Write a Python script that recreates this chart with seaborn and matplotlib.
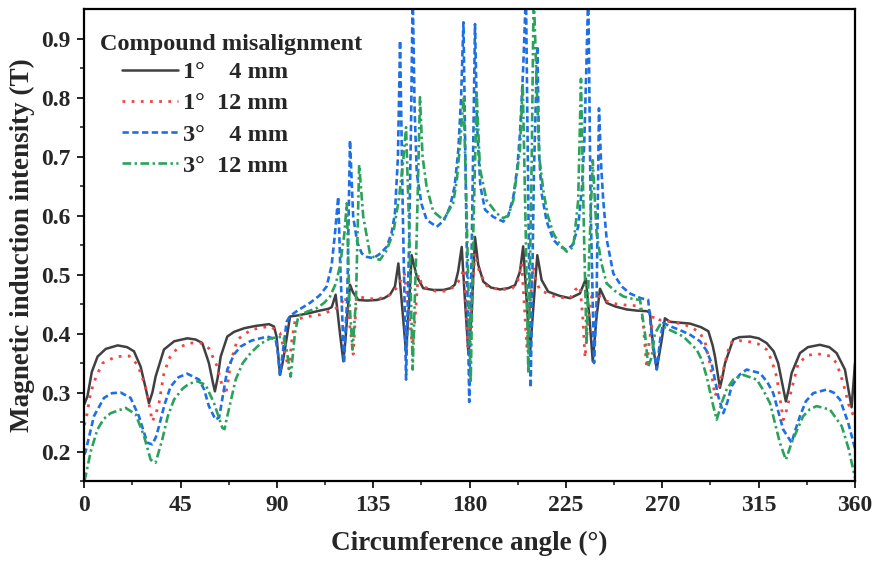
import numpy as np
import pandas as pd
import matplotlib
matplotlib.use("Agg")
import matplotlib.pyplot as plt
import seaborn as sns

# ---------------- data ----------------
ang_1_4 = [0, 1.5, 3.5, 6.2, 10, 15.6, 20, 23.2, 26.3, 28.5, 30.2, 31.8, 33.3, 37.2, 42, 48.1, 52, 55.1,
           58.2, 60.0, 61.0, 62.3, 63.7, 66.8, 70, 74.6, 80, 86.3, 88.6, 89.8, 91.4, 92.6, 93.7, 96.1, 100,
           105.4, 110, 114, 115.6, 117.4, 118.5, 119.4, 121.0, 122.0, 122.8, 124.1, 125.5, 128, 132, 136.6,
           140, 142.8, 145.1, 146.7, 148.2, 150.3, 151.8, 152.9, 155.3, 158.3, 163, 167.7, 171, 173.1, 174.6,
           176.3, 177.8, 179.4, 180.9, 182.5, 184, 186.4, 190, 194.2, 198, 201.2, 203.5, 205, 206.6, 208.2,
           210, 211.6, 213.6, 216.7, 222, 226.9, 231.5, 234.3, 235.9, 237.5, 239.3, 240.9, 244, 248, 253.3,
           258, 262.7, 264.2, 265.8, 267.4, 269.7, 271.2, 273.6, 282.9, 288, 291.5, 293.5, 294.6, 296.9, 298,
           299.3, 303.1, 306, 310.9, 315, 318.7, 322, 324.1, 327.7, 329, 330.4, 334.3, 338, 343.6, 348, 351.4,
           355.3, 358.4, 360]
val_1_4 = [0.280, 0.294, 0.335, 0.361, 0.374, 0.380, 0.377, 0.370, 0.344, 0.310, 0.282, 0.300, 0.327, 0.373,
           0.387, 0.392, 0.390, 0.384, 0.350, 0.318, 0.302, 0.325, 0.361, 0.395, 0.403, 0.409, 0.413, 0.416,
           0.412, 0.395, 0.330, 0.350, 0.373, 0.429, 0.431, 0.435, 0.439, 0.442, 0.445, 0.466, 0.430, 0.401,
           0.353, 0.390, 0.429, 0.483, 0.470, 0.457, 0.456, 0.457, 0.460, 0.466, 0.480, 0.519, 0.457, 0.367,
           0.457, 0.533, 0.497, 0.477, 0.474, 0.474, 0.477, 0.483, 0.505, 0.547, 0.457, 0.367, 0.429, 0.564,
           0.517, 0.488, 0.478, 0.475, 0.477, 0.482, 0.505, 0.548, 0.457, 0.367, 0.457, 0.533, 0.491, 0.471,
           0.464, 0.460, 0.468, 0.493, 0.429, 0.353, 0.429, 0.476, 0.452, 0.446, 0.441, 0.439, 0.438, 0.436,
           0.374, 0.340, 0.389, 0.426, 0.420, 0.417, 0.411, 0.404, 0.380, 0.361, 0.308, 0.325, 0.350, 0.390,
           0.394, 0.395, 0.392, 0.384, 0.370, 0.350, 0.285, 0.305, 0.333, 0.367, 0.377, 0.381, 0.377, 0.367,
           0.339, 0.275, 0.350]

ang_1_12 = [0, 0.8, 3, 5.5, 8.6, 14.8, 21, 24.9, 28.6, 31.8, 33.5, 34.9, 37.2, 40, 43.4, 48.9, 54.3, 58.2,
            62.1, 64.5, 66, 67.2, 68.3, 71.5, 77.7, 82, 87, 91.4, 93.5, 95.5, 97, 98.5, 103, 110.1, 116.3,
            119.5, 121.8, 123.5, 125.6, 127.2, 131.9, 137, 142.8, 146, 149.5, 151.5, 153.3, 154.8, 156, 158,
            164, 169.3, 172.5, 174.7, 177.5, 179.2, 180.8, 182.5, 184.5, 188, 194.2, 200, 202.5, 204.3, 205.5,
            206.7, 208.2, 209.7, 211, 212.8, 220, 226.9, 229.2, 231.5, 232.8, 233.9, 235.3, 237, 239.3, 244,
            248.7, 254, 259.6, 261, 262.7, 264, 265.8, 268.9, 274, 279.8, 284, 287.6, 290, 292.2, 294.6, 296,
            297.7, 301.6, 306, 310.9, 315, 318.7, 321, 323.4, 326.5, 328, 329.6, 333.5, 338, 342.1, 348.3,
            351.4, 354.5, 357, 360]
val_1_12 = [0.245, 0.254, 0.300, 0.327, 0.350, 0.361, 0.362, 0.347, 0.310, 0.251, 0.265, 0.282, 0.333, 0.360,
            0.375, 0.384, 0.384, 0.375, 0.344, 0.310, 0.296, 0.320, 0.350, 0.390, 0.406, 0.410, 0.412, 0.401,
            0.370, 0.340, 0.390, 0.423, 0.428, 0.432, 0.440, 0.447, 0.463, 0.430, 0.365, 0.463, 0.460, 0.458,
            0.466, 0.478, 0.502, 0.440, 0.375, 0.440, 0.500, 0.480, 0.472, 0.472, 0.479, 0.488, 0.510, 0.378,
            0.450, 0.536, 0.505, 0.481, 0.474, 0.477, 0.490, 0.519, 0.450, 0.378, 0.450, 0.514, 0.490, 0.474,
            0.462, 0.460, 0.474, 0.480, 0.430, 0.359, 0.420, 0.463, 0.466, 0.455, 0.450, 0.448, 0.447, 0.420,
            0.342, 0.390, 0.430, 0.423, 0.420, 0.416, 0.410, 0.401, 0.385, 0.350, 0.294, 0.305, 0.327, 0.384,
            0.388, 0.386, 0.382, 0.373, 0.355, 0.327, 0.254, 0.270, 0.294, 0.350, 0.363, 0.366, 0.362, 0.350,
            0.316, 0.280, 0.255]

ang_3_4 = [0, 0.6, 4.5, 9.2, 13, 17, 21.6, 25.5, 29.4, 31.8, 33.5, 34.9, 37.5, 40.3, 44, 48.1, 53.6, 56,
           58.2, 61.3, 63, 64.5, 66.8, 70, 73, 78, 85.5, 89.4, 90.5, 91.4, 92.8, 94.5, 96.1, 100, 105.4, 110,
           113.2, 115.5, 117.1, 118.6, 119.5, 120.2, 121.3, 122.2, 122.8, 123.5, 124.1, 125.6, 127.5, 129.6,
           132, 135, 138, 141.2, 143.5, 145.1, 146.5, 147.5, 148.7, 150.3, 151.8, 152.6, 153.4, 154.3, 155.3,
           157.5, 159.9, 164.6, 168, 170.8, 173, 174.7, 176, 177.1, 178.4, 179.8, 181.2, 182.5, 183.5, 185,
           187.2, 191, 195.7, 198, 200.4, 202.2, 203.5, 205, 206.3, 207.4, 208.5, 210, 211.6, 212.5, 213.6,
           216, 219.1, 222, 225.3, 228, 230.7, 232.5, 233.5, 234.5, 235.4, 236.5, 238.1, 239.3, 240.4, 241.5,
           242.4, 244, 247.1, 251, 254.9, 260, 263.4, 265, 267.4, 269, 270.4, 274, 278.2, 283, 287.6, 290.5,
           293, 296.1, 298.5, 300.5, 302.4, 306, 309.4, 315.6, 319, 321.8, 324, 326.5, 330.4, 332, 334.3, 337,
           340.5, 346.7, 350, 353, 356.8, 360]
val_3_4 = [0.195, 0.200, 0.260, 0.291, 0.299, 0.300, 0.291, 0.260, 0.215, 0.212, 0.225, 0.243, 0.280, 0.310,
           0.326, 0.332, 0.322, 0.305, 0.277, 0.254, 0.258, 0.290, 0.339, 0.365, 0.378, 0.388, 0.395, 0.390,
           0.365, 0.330, 0.370, 0.420, 0.430, 0.440, 0.452, 0.465, 0.480, 0.515, 0.570, 0.632, 0.520, 0.457,
           0.350, 0.420, 0.457, 0.600, 0.728, 0.598, 0.555, 0.536, 0.530, 0.528, 0.535, 0.547, 0.570, 0.604,
           0.700, 0.897, 0.620, 0.322, 0.570, 0.750, 0.980, 0.780, 0.672, 0.620, 0.593, 0.581, 0.592, 0.615,
           0.650, 0.711, 0.800, 0.928, 0.600, 0.284, 0.600, 0.925, 0.750, 0.650, 0.610, 0.598, 0.590, 0.600,
           0.632, 0.680, 0.739, 0.850, 0.980, 0.620, 0.308, 0.670, 0.888, 0.700, 0.638, 0.590, 0.559, 0.548,
           0.542, 0.550, 0.581, 0.650, 0.720, 0.850, 0.980, 0.620, 0.350, 0.457, 0.782, 0.680, 0.626, 0.560,
           0.502, 0.480, 0.468, 0.460, 0.457, 0.400, 0.339, 0.390, 0.418, 0.412, 0.406, 0.398, 0.387, 0.372,
           0.350, 0.294, 0.265, 0.285, 0.311, 0.330, 0.339, 0.333, 0.318, 0.299, 0.270, 0.237, 0.215, 0.235,
           0.260, 0.285, 0.299, 0.305, 0.300, 0.288, 0.249, 0.205]

ang_3_12 = [0, 0.6, 3, 6.1, 9, 12.3, 19.3, 24, 27.9, 31, 33.3, 36.4, 39, 41.9, 46, 49, 52.8, 56.7, 60.6,
            64.5, 65.5, 66.8, 70.7, 74, 77.7, 82, 87, 93, 94.5, 96.4, 98.4, 100, 104, 108.5, 112, 114.8, 117.5,
            119.4, 121.5, 122.6, 123.8, 125.3, 126.9, 128.4, 130.3, 133.4, 135.5, 138.1, 141, 144.3, 147, 149,
            150.3, 151.8, 153.4, 155.3, 156.8, 158, 159.9, 163, 167.7, 172.3, 174, 175.5, 177.2, 178.6, 180.5,
            181.7, 183.3, 184.8, 187.9, 192.6, 195.7, 198, 200.4, 203.5, 204.8, 206.2, 207.4, 209, 209.9,
            211.3, 212.5, 214.4, 216.5, 219.1, 222, 225.3, 228.4, 230.7, 232, 233.4, 234.6, 236, 237.5, 239.3,
            241.5, 244, 248, 251.8, 256, 259.6, 261.9, 263.4, 265, 266.5, 268.9, 273.6, 279.8, 286, 288.5,
            290.7, 293.8, 295.4, 297.7, 300, 303.1, 307.8, 314.1, 317, 320.3, 324.9, 327.7, 330.4, 335.8, 339,
            342.1, 348.3, 353.8, 357, 360]
val_3_12 = [0.150, 0.158, 0.200, 0.237, 0.255, 0.265, 0.274, 0.263, 0.226, 0.186, 0.181, 0.220, 0.260, 0.288,
            0.307, 0.315, 0.319, 0.313, 0.282, 0.240, 0.238, 0.260, 0.322, 0.350, 0.367, 0.382, 0.392, 0.395,
            0.373, 0.327, 0.401, 0.430, 0.437, 0.443, 0.452, 0.463, 0.485, 0.514, 0.570, 0.621, 0.457, 0.373,
            0.457, 0.686, 0.598, 0.536, 0.528, 0.525, 0.540, 0.570, 0.630, 0.694, 0.750, 0.570, 0.339, 0.570,
            0.801, 0.700, 0.649, 0.607, 0.593, 0.621, 0.660, 0.720, 0.801, 0.600, 0.316, 0.570, 0.807, 0.680,
            0.626, 0.604, 0.596, 0.600, 0.626, 0.711, 0.824, 0.570, 0.333, 0.700, 0.980, 0.824, 0.700, 0.643,
            0.600, 0.570, 0.552, 0.539, 0.547, 0.626, 0.832, 0.570, 0.384, 0.550, 0.694, 0.570, 0.520, 0.485,
            0.472, 0.463, 0.459, 0.457, 0.400, 0.344, 0.360, 0.400, 0.415, 0.406, 0.395, 0.373, 0.355, 0.327,
            0.277, 0.254, 0.282, 0.305, 0.322, 0.330, 0.322, 0.305, 0.282, 0.215, 0.186, 0.215, 0.260, 0.272,
            0.277, 0.271, 0.243, 0.205, 0.155]

labels = ["1°    4 mm", "1°  12 mm", "3°    4 mm", "3°  12 mm"]
legend_title = "Compound misalignment"
x_label = "Circumference angle (°)"
y_label = "Magnetic induction intensity (T)"
x_ticks = [0, 45, 90, 135, 180, 225, 270, 315, 360]
y_ticks = [0.2, 0.3, 0.4, 0.5, 0.6, 0.7, 0.8, 0.9]

# ---------------- style ----------------
sns.set_style("ticks")
plt.rcParams["font.family"] = ["Liberation Serif", "DejaVu Serif"]
plt.rcParams["font.weight"] = "bold"
plt.rcParams["axes.labelweight"] = "bold"

fig = plt.figure(figsize=(8.77, 5.62), dpi=100)
ax = fig.add_axes([84.3 / 877, (562 - 481) / 562, (855 - 84.3) / 877, (481 - 9.3) / 562])

series = [
    (ang_1_4, val_1_4, labels[0], "#404040", "-", 1.8),
    (ang_1_12, val_1_12, labels[1], "#f24444", (0, (1, 2.3)), 2.0),
    (ang_3_4, val_3_4, labels[2], "#1e6fe3", (0, (2.4, 1.3)), 1.9),
    (ang_3_12, val_3_12, labels[3], "#2ba25c", (0, (3.3, 1.3, 0.9, 1.3)), 1.9),
]
for a, v, lab, col, ls, lw in series:
    df = pd.DataFrame({"angle": a, "B": v})
    sns.lineplot(data=df, x="angle", y="B", ax=ax, color=col, linestyle=ls,
                 linewidth=lw, label=lab, estimator=None, sort=False)

ax.set_xlim(0, 360)
ax.set_ylim(0.15, 0.95)
ax.set_xticks(x_ticks)
ax.set_yticks(y_ticks)
ax.set_xticks([22.5 + 45 * i for i in range(8)], minor=True)
ax.set_yticks([0.15 + 0.1 * i for i in range(8)], minor=True)
ax.set_xticklabels([str(t) for t in x_ticks], fontsize=17, fontweight="bold")
ax.set_yticklabels([f"{t:.1f}" for t in y_ticks], fontsize=17, fontweight="bold")
ax.tick_params(which="major", direction="out", length=5, width=1.4, pad=5)
ax.tick_params(which="minor", direction="out", length=3, width=1.2)
for sp in ax.spines.values():
    sp.set_linewidth(1.6)
    sp.set_color("black")
    sp.set_visible(True)

ax.set_xlabel(x_label, fontsize=19.5, fontweight="bold", labelpad=11)
ax.set_ylabel(y_label, fontsize=19.5, fontweight="bold", labelpad=4)

ax.text(0.0204, 0.926, legend_title, transform=ax.transAxes, fontsize=17.5,
        fontweight="bold", va="center", ha="left")
leg = ax.legend(loc="upper left", bbox_to_anchor=(0.049, 0.89), frameon=False,
                borderpad=0, borderaxespad=0, handlelength=2.3, handletextpad=0.2,
                labelspacing=0.38, prop={"size": 17.5, "weight": "bold"})

fig.savefig("out.png", dpi=100)
